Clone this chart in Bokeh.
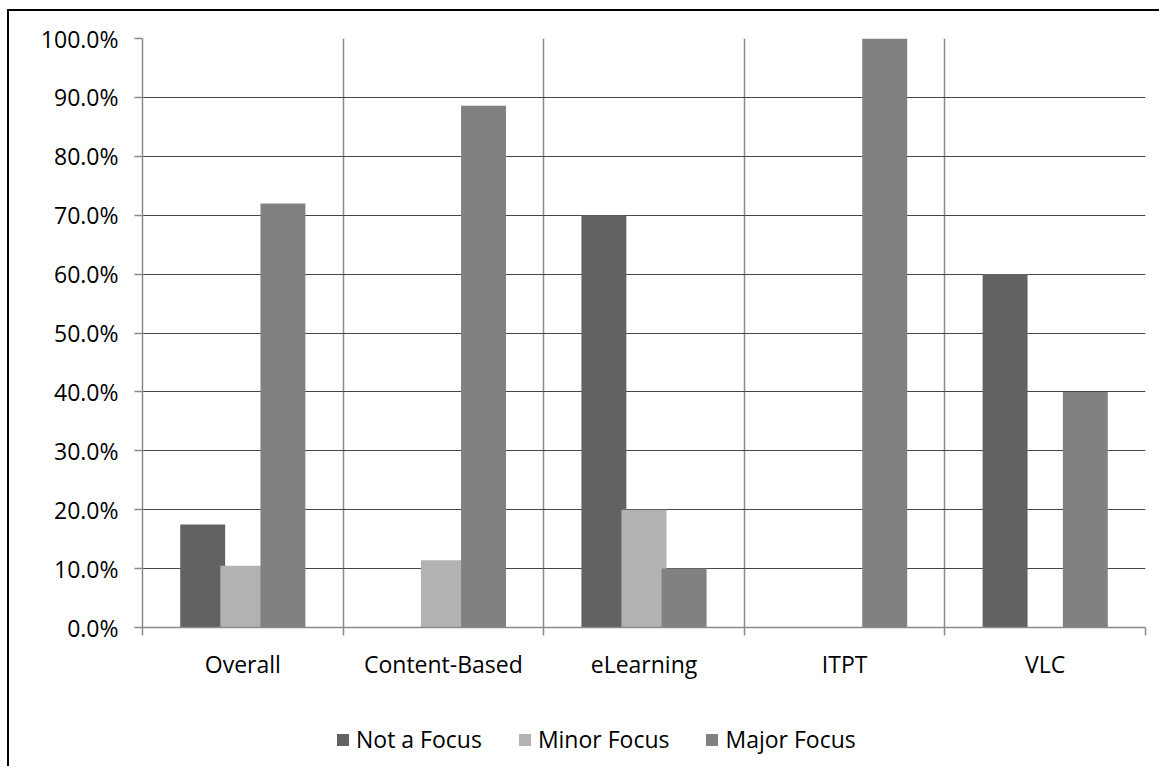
from bokeh.plotting import figure
from bokeh.models import (Range1d, FixedTicker, NumeralTickFormatter, Legend, LegendItem,
                          ColumnDataSource)
from bokeh.layouts import column
from bokeh.embed import file_html
from bokeh.resources import INLINE

categories = ["Overall", "Content-Based", "eLearning", "ITPT", "VLC"]
series_names = ["Not a Focus", "Minor Focus", "Major Focus"]
not_a_focus = [0.175, 0.0, 0.70, 0.0, 0.60]
minor_focus = [0.105, 0.114, 0.20, 0.0, 0.0]
major_focus = [0.72, 0.886, 0.10, 1.00, 0.40]
y_ticks = [0.0, 0.1, 0.2, 0.3, 0.4, 0.5, 0.6, 0.7, 0.8, 0.9, 1.0]

colors = ["#626262", "#b2b2b2", "#818181"]
offsets = [-0.2, 0.0, 0.2]
bar_w = 0.224
FONT = "Open Sans"
FS = "23px"

W = 1150
H_MAIN = 678
H_LEG = 77

p = figure(width=W, height=H_MAIN, output_backend="svg", toolbar_location=None,
           x_range=Range1d(0, len(categories)), y_range=Range1d(0, 1),
           min_border_left=133, min_border_right=14, min_border_top=27,
           min_border_bottom=62)
p.outline_line_color = None
p.background_fill_color = "white"
p.border_fill_color = "white"

centers = [i + 0.5 for i in range(len(categories))]
for vals, col, off in zip([not_a_focus, minor_focus, major_focus], colors, offsets):
    src = ColumnDataSource(dict(x=[c + off for c in centers], top=vals))
    p.vbar(x="x", top="top", width=bar_w, source=src, fill_color=col, line_color=None)

# x axis: labels at centers, tick marks at boundaries
xt = FixedTicker(ticks=centers, minor_ticks=list(range(len(categories) + 1)))
p.xaxis.ticker = xt
p.xaxis.major_label_overrides = {c: n for c, n in zip(centers, categories)}
p.xaxis.major_tick_out = 0
p.xaxis.major_tick_in = 0
p.xaxis.minor_tick_out = 8
p.xaxis.minor_tick_in = 0
p.xaxis.minor_tick_line_color = "#8a8a8a"
p.xaxis.minor_tick_line_width = 1.5
p.xaxis.axis_line_color = "#8a8a8a"
p.xaxis.axis_line_width = 1.5
p.xaxis.major_label_text_font = FONT
p.xaxis.major_label_text_font_size = FS
p.xaxis.major_label_text_color = "black"
p.xaxis.major_label_standoff = 12

p.xgrid.ticker = xt
p.xgrid.grid_line_color = None
p.xgrid.minor_grid_line_color = "#8a8a8a"
p.xgrid.minor_grid_line_width = 1.5

p.yaxis.ticker = FixedTicker(ticks=y_ticks)
p.yaxis.formatter = NumeralTickFormatter(format="0.0%")
p.yaxis.major_tick_out = 8
p.yaxis.major_tick_in = 0
p.yaxis.minor_tick_line_color = None
p.yaxis.major_tick_line_color = "#8a8a8a"
p.yaxis.major_tick_line_width = 1.5
p.yaxis.axis_line_color = "#8a8a8a"
p.yaxis.axis_line_width = 1.5
p.yaxis.major_label_text_font = FONT
p.yaxis.major_label_text_font_size = FS
p.yaxis.major_label_text_color = "black"
p.yaxis.major_label_standoff = 16

p.ygrid.grid_line_color = "#474747"
p.ygrid.grid_line_width = 1

# legend figure below the chart (its frame is aligned with the main frame)
pl = figure(width=W, height=H_LEG, output_backend="svg", toolbar_location=None,
            x_range=Range1d(0, 1), y_range=Range1d(0, 1),
            x_axis_type=None, y_axis_type=None,
            min_border_left=0, min_border_right=0, min_border_top=0, min_border_bottom=0)
pl.outline_line_color = None
pl.grid.visible = False
pl.background_fill_color = "white"
pl.border_fill_color = "white"
leg_renderers = []
for col in colors:
    # zero-size bar, only so the legend can show the series swatch
    leg_renderers.append(pl.vbar(x=[0.5], top=[0.0], bottom=[0.0], width=0.0,
                                 fill_color=col, line_color=None))

legend = Legend(items=[LegendItem(label=n, renderers=[r]) for n, r in zip(series_names, leg_renderers)],
                orientation="horizontal", location=(193, 11),
                glyph_width=15, glyph_height=15, label_standoff=6, spacing=35,
                padding=0, margin=0, border_line_color=None, background_fill_alpha=0,
                label_text_font=FONT, label_text_font_size=FS, label_text_color="black")
pl.add_layout(legend, "center")

layout = column(p, pl, spacing=0)
layout.styles = {"border-left": "2.5px solid black", "border-top": "2.5px solid black",
                 "margin-left": "7px", "margin-top": "9px"}

open("out.html", "w").write(file_html(layout, INLINE))
